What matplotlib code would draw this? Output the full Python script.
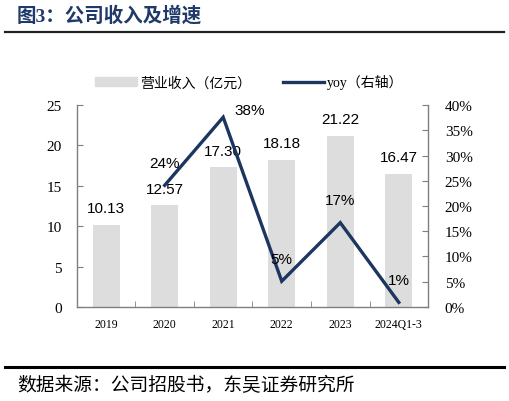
import numpy as np
import matplotlib
matplotlib.use("Agg")
import matplotlib.pyplot as plt
from matplotlib.lines import Line2D

plt.rcParams['font.family'] = ['Liberation Serif', 'Noto Sans CJK SC', 'DejaVu Sans']

# data
years = ['2019', '2020', '2021', '2022', '2023', '2024Q1-3']
revenue = [10.13, 12.57, 17.30, 18.18, 21.22, 16.47]          # 亿元
yoy_years = ['2020', '2021', '2022', '2023', '2024Q1-3']
yoy = [24.1, 37.6, 5.1, 16.7, 0.9]                              # %
yoy_labels = ['24%', '38%', '5%', '17%', '1%']

navy = '#1C3660'
bar_gray = '#DDDDDD'
spine_gray = '#7F7F7F'
cjk = ['Noto Sans CJK SC', 'DejaVu Sans']
mixed = ['Liberation Serif', 'Noto Sans CJK SC']

fig = plt.figure(figsize=(5.09, 4.02), dpi=100)
ax = fig.add_axes([0.151, 0.234, 0.690, 0.502])
ax2 = ax.twinx()

x = np.arange(len(years))
bars = ax.bar(x, revenue, width=0.46, color=bar_gray, zorder=1)
for xi, v in zip(x, revenue):
    ax.annotate(f'{v:.2f}', (xi, v), xytext=(0, 7), textcoords='offset points',
                ha='center', va='bottom', fontsize=11, family='Liberation Sans')

xl = [years.index(y) for y in yoy_years]
ax2.plot(xl, yoy, color=navy, lw=2.4, solid_joinstyle='miter', zorder=3)
for i, (xi, v, lab) in enumerate(zip(xl, yoy, yoy_labels)):
    off = (19, 5) if lab == '38%' else (0, 16)
    ax2.annotate(lab, (xi, v), xytext=off, textcoords='offset points',
                 ha='center', va='center', fontsize=11, family='Liberation Sans')

ax.set_xlim(-0.5, len(years) - 0.5)
ax.set_ylim(0, 25)
ax.set_yticks(range(0, 26, 5))
ax2.set_ylim(0, 40)
ax2.set_yticks(range(0, 41, 5))
ax2.set_yticklabels([f'{t}%' for t in range(0, 41, 5)])

ax.set_xticks(x)
ax.set_xticklabels(years, fontsize=8.5)
ax.set_xticks(np.arange(-0.5, len(years)), minor=True)
ax.tick_params(axis='x', which='major', length=0, pad=8)
ax.tick_params(axis='x', which='minor', direction='in', length=4, color=spine_gray)
ax.tick_params(axis='y', direction='in', length=4, color=spine_gray, labelsize=11, pad=11)
ax2.tick_params(axis='y', direction='in', length=4, color=spine_gray, labelsize=11, pad=12)

for a in (ax, ax2):
    a.spines['top'].set_visible(False)
    for s in ('left', 'right', 'bottom'):
        a.spines[s].set_color(spine_gray)
        a.spines[s].set_linewidth(1.0)
ax.spines['right'].set_visible(False)
ax2.spines['left'].set_visible(False)
ax2.spines['bottom'].set_visible(False)

handles = [plt.Rectangle((0, 0), 1, 1, color=bar_gray),
           Line2D([0], [0], color=navy, lw=2.4)]
leg = fig.legend(handles, ['营业收入（亿元）', 'yoy（右轴）'], loc='center',
                 bbox_to_anchor=(0.49, 0.794), ncol=2, frameon=False,
                 handlelength=3.0, handleheight=0.6, columnspacing=2.3,
                 handletextpad=0.2, prop={'family': mixed, 'size': 10})

fig.text(0.033, 0.96, '图3：公司收入及增速', fontsize=14, fontweight='bold',
         color='#1F3A68', va='center', ha='left', family=mixed)
fig.add_artist(Line2D([0.01, 0.99], [0.918, 0.918], color='#222222', lw=1.6))
fig.add_artist(Line2D([0.01, 0.99], [0.085, 0.085], color='black', lw=2.2))
fig.text(0.033, 0.040, '数据来源：公司招股书，东吴证券研究所', fontsize=13.5,
         va='center', ha='left', family=cjk)

fig.savefig('out.png', dpi=100)
